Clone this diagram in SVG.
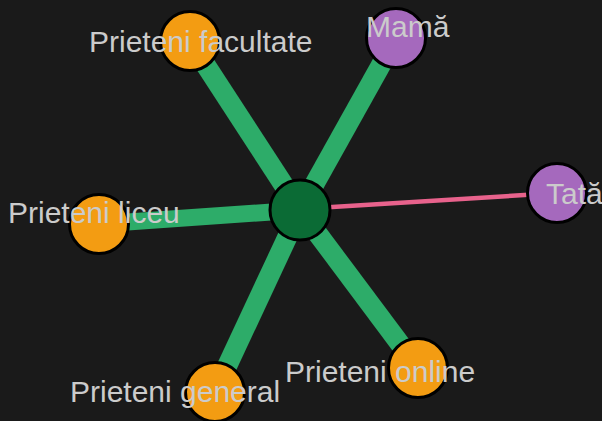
<svg xmlns="http://www.w3.org/2000/svg" width="602" height="421" viewBox="0 0 602 421">
<style>
.e{stroke:#2dac69;stroke-linecap:butt}
.n{stroke:#000;stroke-width:3}
.o{fill:#f39c12}
.p{fill:#a569bd}
.t{font-family:"Liberation Sans",Arial,sans-serif;font-size:30px;fill:#cbcbcb}
</style>
<rect width="602" height="421" fill="#1a1a1a"/>
<g id="edges">
<line class="e" x1="300" y1="210" x2="190" y2="41" stroke-width="20"/>
<line class="e" x1="300" y1="210" x2="396" y2="38" stroke-width="20"/>
<line class="e" x1="300" y1="210" x2="99" y2="224" stroke-width="17"/>
<line class="e" x1="300" y1="210" x2="215" y2="392" stroke-width="20"/>
<line class="e" x1="300" y1="210" x2="418" y2="368" stroke-width="20"/>
<line x1="300" y1="209" x2="557" y2="193" stroke="#e8628c" stroke-width="4.5"/>
</g>
<g id="node-center"><circle class="n" cx="300" cy="210" r="30" fill="#0b6b35"/></g>
<g id="node-facultate"><circle class="n o" cx="190" cy="41" r="29.5"/></g>
<g id="node-mama"><circle class="n p" cx="396" cy="38" r="29.5"/></g>
<g id="node-tata"><circle class="n p" cx="557" cy="193" r="29.5"/></g>
<g id="node-liceu"><circle class="n o" cx="99" cy="224" r="29.5"/></g>
<g id="node-general"><circle class="n o" cx="215" cy="392" r="29.5"/></g>
<g id="node-online"><circle class="n o" cx="418" cy="368" r="29.5"/></g>
<g id="labels">
<text class="t" x="89" y="52">Prieteni facultate</text>
<text class="t" x="366" y="37">Mamă</text>
<text class="t" x="546" y="204">Tată</text>
<text class="t" x="8" y="223">Prieteni liceu</text>
<text class="t" x="70" y="402">Prieteni general</text>
<text class="t" x="285" y="382">Prieteni online</text>
</g>
</svg>
